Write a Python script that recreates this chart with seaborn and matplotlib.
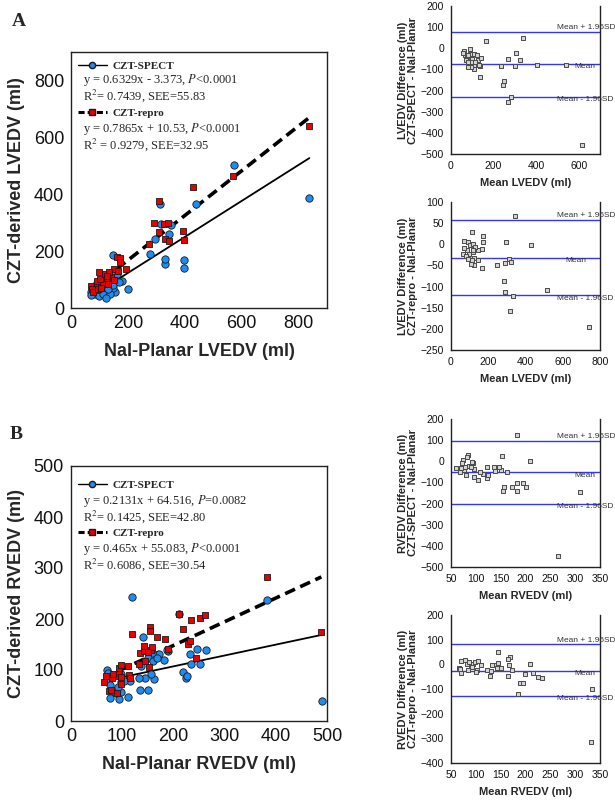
import numpy as np
import matplotlib
matplotlib.use("Agg")
import matplotlib.pyplot as plt
import seaborn as sns
from matplotlib.lines import Line2D
import matplotlib.transforms as mtransforms

# ==========================================
# Data
# ==========================================
# Panel A - LVEDV, NaI-Planar vs CZT
lv_planar_spect = [838, 572, 441, 312, 315, 296, 350, 344, 276, 331, 329, 398, 397, 149,
                   69, 83, 95, 100, 114, 93, 103, 123, 137, 154, 122, 97, 139, 155, 181,
                   163, 202, 149, 137, 69, 123, 130, 146, 170]
lv_czt_spect = [387, 503, 364, 365, 295, 243, 293, 261, 191, 155, 173, 168, 141, 188,
                56, 50, 54, 43, 50, 88, 78, 74, 65, 58, 97, 67, 106, 98, 96,
                119, 67, 69, 49, 47, 35, 66, 82, 90]

lv_planar_repro = [837, 571, 310, 429, 292, 328, 342, 311, 274, 329, 346, 392, 396,
                   69, 97, 160, 171, 174, 194, 150, 141, 150, 109, 91, 75, 90, 77, 94,
                   130, 103, 120, 132, 125, 106, 129, 165, 127]
lv_czt_repro = [641, 464, 376, 427, 298, 294, 299, 266, 224, 243, 234, 270, 239,
                76, 126, 180, 177, 162, 138, 137, 109, 100, 87, 77, 66, 96, 55, 66,
                92, 102, 120, 126, 107, 72, 83, 129, 113]

# regression lines printed on the plots (slope, intercept)
lv_fit_spect = (0.6329, -3.373)
lv_fit_repro = (0.7865, 10.53)

# Bland-Altman LVEDV, CZT-SPECT - NaI-Planar
ba_lv_spect_mean = [615, 403, 541, 164, 338, 305, 270, 322, 303, 234, 243, 251, 283, 269,
                    62, 66, 74, 71, 82, 90, 90, 98, 101, 106, 109, 82, 122, 126, 138,
                    141, 134, 109, 93, 58, 79, 98, 114, 130]
ba_lv_spect_diff = [-456, -77, -77, 35, 49, -20, -53, -57, -83, -85, -176, -156, -230, -256,
                    -13, -33, -41, -57, -64, -5, -25, -49, -72, -96, -25, -30, -33, -57, -85,
                    -44, -135, -80, -88, -22, -88, -64, -64, -80]
ba_lv_spect_lines = [77, -75, -230]

# Bland-Altman LVEDV, CZT-repro - NaI-Planar
ba_lv_repro_mean = [739, 517, 343, 428, 295, 311, 320, 288, 249, 286, 290, 331, 317,
                    72, 111, 170, 174, 168, 166, 143, 125, 125, 98, 84, 70, 93, 66, 80,
                    111, 102, 120, 129, 116, 89, 106, 147, 120]
ba_lv_repro_diff = [-196, -107, 66, -2, 6, -34, -43, -45, -50, -86, -112, -122, -157,
                    7, 29, 20, 6, -12, -56, -13, -32, -50, -22, -14, -9, 6, -22, -28,
                    -38, -1, 0, -6, -18, -34, -46, -36, -14]
ba_lv_repro_lines = [58, -31.5, -120.5]

# Panel B - RVEDV
rv_planar_spect = [490, 383, 120, 210, 141, 189, 172, 159, 151, 161, 219, 225, 235, 233,
                   252, 246, 263, 136, 162, 156, 145, 150, 133, 135, 116, 98, 70, 72,
                   98, 112, 72, 76, 97, 93, 87, 76, 103, 93, 92, 182, 167, 187, 226]
rv_czt_spect = [40, 237, 244, 210, 165, 137, 131, 134, 123, 117, 96, 85, 112, 132,
                112, 142, 140, 108, 82, 93, 85, 60, 84, 60, 78, 92, 100, 94,
                76, 48, 78, 70, 56, 44, 54, 46, 78, 91, 67, 119, 124, 140, 88]

rv_planar_repro = [489, 383, 120, 154, 154, 168, 189, 184, 245, 228, 233, 218, 210, 234,
                   252, 262, 74, 78, 65, 69, 81, 97, 89, 92, 94, 94, 114, 98, 116, 112,
                   133, 144, 153, 134, 142, 142, 156, 158, 150, 98, 83]
rv_czt_repro = [175, 283, 170, 184, 177, 164, 141, 160, 124, 151, 156, 180, 210, 199,
                201, 207, 59, 61, 77, 88, 84, 73, 54, 88, 97, 103, 90, 110, 85, 108,
                111, 117, 105, 133, 138, 147, 139, 145, 135, 87, 92]

rv_fit_spect = (0.2131, 64.516)
rv_fit_repro = (0.465, 55.083)

ba_rv_spect_mean = [265, 310, 182, 210, 153, 163, 151, 146, 137, 139, 157, 155, 173, 182,
                    182, 194, 201, 122, 122, 124, 115, 105, 108, 97, 97, 95, 85, 83, 87,
                    80, 75, 73, 76, 68, 70, 61, 90, 92, 79]
ba_rv_spect_diff = [-450, -146, 124, 0, 24, -52, -41, -25, -28, -44, -123, -140, -123, -101,
                    -140, -104, -123, -28, -80, -63, -60, -90, -49, -75, -38, -6, 30, 22, -22,
                    -64, 6, -6, -41, -49, -33, -30, -25, -2, -25]
ba_rv_spect_lines = [96, -53, -203]

ba_rv_repro_mean = [332, 333, 145, 169, 165, 166, 165, 172, 184, 189, 194, 199, 210, 216,
                    226, 234, 66, 69, 71, 78, 82, 85, 71, 90, 95, 98, 102, 104, 100, 110,
                    122, 130, 129, 133, 140, 144, 147, 151, 142, 92, 87]
ba_rv_repro_diff = [-314, -100, 50, 30, 23, -4, -48, -24, -121, -77, -77, -38, 0, -35,
                    -51, -55, -15, -17, 12, 19, 3, -24, -35, -4, 3, 9, -24, 12, -31, -4,
                    -22, -27, -48, -1, -4, 5, -17, -13, -15, -11, 9]
ba_rv_repro_lines = [81, -26, -129]

BA_LINE_LABELS = ["Mean + 1.96SD", "Mean", "Mean - 1.96SD"]

# ==========================================
# Style
# ==========================================
sns.set_style("white")
plt.rcParams["font.family"] = ["Liberation Sans", "DejaVu Sans"]
plt.rcParams["mathtext.fontset"] = "stix"

BLUE = "#1e8cf0"
RED = "#e80000"
BA_BLUE = "#3535f5"
SERIF = ["Liberation Serif", "DejaVu Serif"]

W, H = 615, 802
fig = plt.figure(figsize=(W / 100, H / 100), dpi=100)


def px_axes(left, top, right, bottom):
    return fig.add_axes([left / W, 1 - bottom / H, (right - left) / W, (bottom - top) / H])


def style_axes(ax, size, full_box):
    for side in ["left", "bottom", "right", "top"]:
        ax.spines[side].set_color("#222222")
        ax.spines[side].set_linewidth(1.0)
    if not full_box:
        ax.spines["top"].set_visible(False)
    ax.tick_params(direction="out", length=3, width=0.8, labelsize=size, pad=2,
                   colors="#111111")


def scatter_panel(ax, xs, ys, xr, yr, fit_s, fit_r, xlabel, ylabel, lims, ticks,
                  eqs, leg_y, eq_y):
    sns.scatterplot(x=xs, y=ys, ax=ax, marker="o", s=28, color=BLUE,
                    edgecolor="#1a1a1a", linewidth=0.6, zorder=3)
    sns.scatterplot(x=xr, y=yr, ax=ax, marker="s", s=23, color=RED,
                    edgecolor="#1a1a1a", linewidth=0.6, zorder=4)
    xx = np.array([min(xs), max(xs)])
    ax.plot(xx, fit_s[0] * xx + fit_s[1], color="black", lw=1.3, zorder=2)
    xx = np.array([min(xr), max(xr)])
    ax.plot(xx, fit_r[0] * xx + fit_r[1], color="black", lw=2.6, ls=(0, (3, 1.6)), zorder=2)

    ax.set_xlim(lims[0])
    ax.set_ylim(lims[1])
    ax.set_xticks(ticks[0])
    ax.set_yticks(ticks[1])
    ax.set_xlabel(xlabel, fontsize=13, fontweight="bold", labelpad=8)
    ax.set_ylabel(ylabel, fontsize=13, fontweight="bold", labelpad=6)
    style_axes(ax, 13, True)

    h_s = Line2D([], [], color="black", lw=1.0, marker="o", ms=4.5, mfc=BLUE, mec="#1a1a1a")
    h_r = Line2D([], [], color="black", lw=2.2, ls=(0, (2, 1)), marker="s", ms=4.5,
                 mfc=RED, mec="#1a1a1a")
    prop = {"family": SERIF, "weight": "bold", "size": 8}
    leg1 = ax.legend([h_s], ["CZT-SPECT"], loc="center left", bbox_to_anchor=(0.01, leg_y[0]),
                     frameon=False, prop=prop, handlelength=2.6, handletextpad=0.5,
                     borderaxespad=0)
    ax.add_artist(leg1)
    ax.legend([h_r], ["CZT-repro"], loc="center left", bbox_to_anchor=(0.01, leg_y[1]),
              frameon=False, prop=prop, handlelength=2.6, handletextpad=0.5, borderaxespad=0)
    for txt, yy in zip(eqs, eq_y):
        ax.text(0.045, yy, txt, transform=ax.transAxes, fontsize=9, family=SERIF,
                va="center", ha="left", linespacing=0.95)


def ba_panel(ax, m, d, lines, mean_x, xlabel, ylabel, xlim, xticks, ylim, yticks):
    sns.scatterplot(x=m, y=d, ax=ax, marker="s", s=11, color="#d4d4d4",
                    edgecolor="#4a4a4a", linewidth=0.7, zorder=3)
    for v in lines:
        ax.axhline(v, color=BA_BLUE, lw=1.0, zorder=2)
    trans = mtransforms.blended_transform_factory(ax.transAxes, ax.transData)
    xs = [0.71, mean_x, 0.71]
    dy = [3, -2, -2]
    for lab, v, xpos, off in zip(BA_LINE_LABELS, lines, xs, dy):
        ax.annotate(lab, (xpos, v), xycoords=trans, xytext=(0, off),
                    textcoords="offset points", fontsize=6, color="#333333",
                    va="center", ha="left", annotation_clip=False)
    ax.set_xlim(xlim)
    ax.set_ylim(ylim)
    ax.set_xticks(xticks)
    ax.set_yticks(yticks)
    ax.set_xlabel(xlabel, fontsize=8, fontweight="bold", labelpad=5)
    ax.set_ylabel(ylabel, fontsize=8, fontweight="bold", labelpad=2, linespacing=1.0)
    style_axes(ax, 7.5, False)


# ==========================================
# Panel A
# ==========================================
axA = px_axes(71, 52, 327, 308)
scatter_panel(
    axA, lv_planar_spect, lv_czt_spect, lv_planar_repro, lv_czt_repro,
    lv_fit_spect, lv_fit_repro,
    "NaI-Planar LVEDV (ml)", "CZT-derived LVEDV (ml)",
    ((0, 900), (0, 900)), (range(0, 801, 200), range(0, 801, 200)),
    ["y = 0.6329x - 3.373, $P$<0.0001\nR$^2$= 0.7439, SEE=55.83",
     "y = 0.7865x + 10.53, $P$<0.0001\nR$^2$ = 0.9279, SEE=32.95"],
    (0.944, 0.763), (0.858, 0.667),
)
fig.text(12 / W, 1 - 22 / H, "A", fontsize=14, fontweight="bold", family=SERIF, va="center")

# ==========================================
# Panel B
# ==========================================
axB = px_axes(71, 466, 327, 721)
scatter_panel(
    axB, rv_planar_spect, rv_czt_spect, rv_planar_repro, rv_czt_repro,
    rv_fit_spect, rv_fit_repro,
    "NaI-Planar RVEDV (ml)", "CZT-derived RVEDV (ml)",
    ((0, 500), (0, 500)), (range(0, 501, 100), range(0, 501, 100)),
    ["y = 0.2131x + 64.516, $P$=0.0082\nR$^2$= 0.1425, SEE=42.80",
     "y = 0.465x + 55.083, $P$<0.0001\nR$^2$= 0.6086, SEE=30.54"],
    (0.925, 0.737), (0.832, 0.644),
)
fig.text(10 / W, 1 - 434 / H, "B", fontsize=14, fontweight="bold", family=SERIF, va="center")

# ==========================================
# Bland-Altman panels
# ==========================================
ax1 = px_axes(451, 6, 600, 154)
ba_panel(ax1, ba_lv_spect_mean, ba_lv_spect_diff, ba_lv_spect_lines, 0.83,
         "Mean LVEDV (ml)", "LVEDV Difference (ml)\nCZT-SPECT - NaI-Planar",
         (0, 700), range(0, 601, 200), (-500, 200), range(-500, 201, 100))

ax2 = px_axes(451, 202, 600, 350)
ba_panel(ax2, ba_lv_repro_mean, ba_lv_repro_diff, ba_lv_repro_lines, 0.77,
         "Mean LVEDV (ml)", "LVEDV Difference (ml)\nCZT-repro - NaI-Planar",
         (0, 800), range(0, 801, 200), (-250, 100), range(-250, 101, 50))

ax3 = px_axes(451, 419, 600, 567)
ba_panel(ax3, ba_rv_spect_mean, ba_rv_spect_diff, ba_rv_spect_lines, 0.83,
         "Mean RVEDV (ml)", "RVEDV Difference (ml)\nCZT-SPECT - NaI-Planar",
         (50, 350), range(50, 351, 50), (-500, 200), range(-500, 201, 100))

ax4 = px_axes(451, 615, 600, 763)
ba_panel(ax4, ba_rv_repro_mean, ba_rv_repro_diff, ba_rv_repro_lines, 0.83,
         "Mean RVEDV (ml)", "RVEDV Difference (ml)\nCZT-repro - NaI-Planar",
         (50, 350), range(50, 351, 50), (-400, 200), range(-400, 201, 100))

fig.savefig("out.png", dpi=100, facecolor="white")
